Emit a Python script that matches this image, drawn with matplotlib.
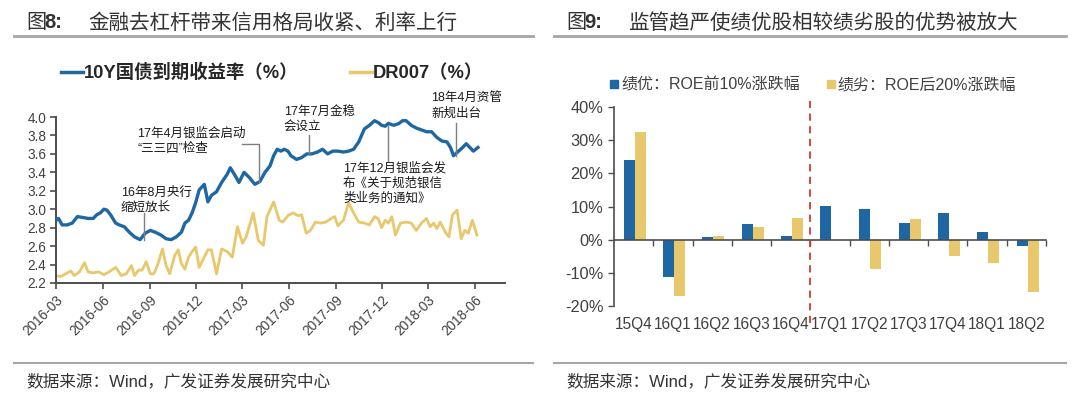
import matplotlib
matplotlib.use("Agg")
import matplotlib.pyplot as plt
import matplotlib.dates as mdates
from matplotlib.lines import Line2D
import numpy as np
import pandas as pd

plt.rcParams['font.family'] = ['Liberation Sans', 'Noto Sans CJK SC', 'DejaVu Sans']
FAM = ['Liberation Sans', 'Noto Sans CJK SC', 'DejaVu Sans']

# ---------------- data: left chart ----------------
bond_dates = ["2016-03-01", "2016-03-06", "2016-03-13", "2016-03-23", "2016-04-02", "2016-04-12",
              "2016-04-23", "2016-05-03", "2016-05-13", "2016-05-20", "2016-05-27", "2016-06-03",
              "2016-06-09", "2016-06-16", "2016-06-26", "2016-07-03", "2016-07-13", "2016-07-23",
              "2016-08-02", "2016-08-13", "2016-08-23", "2016-09-02", "2016-09-12", "2016-09-23",
              "2016-10-03", "2016-10-13", "2016-10-23", "2016-11-02", "2016-11-09", "2016-11-16",
              "2016-11-23", "2016-11-30", "2016-12-07", "2016-12-17", "2016-12-24", "2016-12-31",
              "2017-01-10", "2017-01-20", "2017-01-31", "2017-02-06", "2017-02-16", "2017-02-23",
              "2017-03-05", "2017-03-16", "2017-03-26", "2017-04-05", "2017-04-15", "2017-04-25",
              "2017-05-02", "2017-05-09", "2017-05-16", "2017-05-23", "2017-05-30", "2017-06-05",
              "2017-06-16", "2017-06-26", "2017-07-06", "2017-07-16", "2017-07-27", "2017-08-06",
              "2017-08-16", "2017-08-26", "2017-09-05", "2017-09-16", "2017-09-26", "2017-10-06",
              "2017-10-16", "2017-10-27", "2017-11-06", "2017-11-16", "2017-11-23", "2017-11-30",
              "2017-12-07", "2017-12-13", "2017-12-24", "2018-01-03", "2018-01-10", "2018-01-17",
              "2018-01-27", "2018-02-06", "2018-02-16", "2018-02-26", "2018-03-08", "2018-03-18",
              "2018-03-28", "2018-04-07", "2018-04-14", "2018-04-20", "2018-04-28", "2018-05-08",
              "2018-05-15", "2018-05-22", "2018-05-29", "2018-06-07"]
bond_yield = [2.88, 2.90, 2.83, 2.83, 2.85, 2.92, 2.91, 2.90, 2.90, 2.94, 2.96, 3.00,
              2.99, 2.94, 2.85, 2.83, 2.81, 2.75, 2.70, 2.67, 2.74, 2.77, 2.75, 2.72,
              2.68, 2.67, 2.70, 2.75, 2.85, 2.88, 2.96, 3.07, 3.21, 3.27, 3.08, 3.15,
              3.19, 3.29, 3.38, 3.45, 3.36, 3.29, 3.40, 3.34, 3.27, 3.30, 3.40, 3.47,
              3.58, 3.65, 3.63, 3.65, 3.63, 3.58, 3.54, 3.56, 3.60, 3.60, 3.62, 3.65,
              3.60, 3.63, 3.63, 3.62, 3.63, 3.65, 3.73, 3.87, 3.91, 3.96, 3.94, 3.91,
              3.90, 3.93, 3.91, 3.93, 3.96, 3.96, 3.91, 3.88, 3.86, 3.84, 3.84, 3.78,
              3.74, 3.73, 3.67, 3.58, 3.62, 3.67, 3.71, 3.67, 3.63, 3.67]

dr_dates = ["2016-03-01", "2016-03-10", "2016-03-20", "2016-03-30", "2016-04-06", "2016-04-16",
            "2016-04-26", "2016-05-03", "2016-05-13", "2016-05-24", "2016-06-03", "2016-06-13",
            "2016-06-26", "2016-07-07", "2016-07-17", "2016-07-27", "2016-08-02", "2016-08-10",
            "2016-08-17", "2016-08-25", "2016-09-02", "2016-09-09", "2016-09-16", "2016-09-26",
            "2016-10-03", "2016-10-10", "2016-10-20", "2016-10-27", "2016-11-02", "2016-11-09",
            "2016-11-16", "2016-11-23", "2016-11-30", "2016-12-07", "2016-12-14", "2016-12-24",
            "2016-12-31", "2017-01-10", "2017-01-20", "2017-01-31", "2017-02-10", "2017-02-20",
            "2017-03-02", "2017-03-09", "2017-03-23", "2017-04-02", "2017-04-12", "2017-04-19",
            "2017-05-02", "2017-05-13", "2017-05-20", "2017-05-30", "2017-06-09", "2017-06-19",
            "2017-06-26", "2017-07-05", "2017-07-13", "2017-07-23", "2017-08-02", "2017-08-12",
            "2017-08-23", "2017-08-30", "2017-09-05", "2017-09-16", "2017-09-26", "2017-10-06",
            "2017-10-16", "2017-10-27", "2017-11-06", "2017-11-16", "2017-11-23", "2017-11-30",
            "2017-12-07", "2017-12-13", "2017-12-20", "2017-12-27", "2018-01-06", "2018-01-17",
            "2018-01-27", "2018-02-06", "2018-02-16", "2018-02-26", "2018-03-05", "2018-03-12",
            "2018-03-18", "2018-03-25", "2018-04-04", "2018-04-11", "2018-04-18", "2018-04-27",
            "2018-05-05", "2018-05-12", "2018-05-19", "2018-05-27", "2018-06-05"]
dr007 = [2.28, 2.27, 2.30, 2.33, 2.28, 2.32, 2.42, 2.32, 2.31, 2.32, 2.29, 2.32,
         2.37, 2.28, 2.30, 2.39, 2.28, 2.34, 2.34, 2.43, 2.30, 2.30, 2.39, 2.57,
         2.39, 2.30, 2.50, 2.56, 2.41, 2.35, 2.48, 2.54, 2.59, 2.37, 2.45, 2.56,
         2.56, 2.30, 2.57, 2.54, 2.48, 2.81, 2.63, 2.70, 2.96, 2.66, 2.61, 2.92,
         3.08, 2.88, 2.86, 2.93, 2.96, 2.93, 2.94, 2.74, 2.77, 2.86, 2.85, 2.86,
         2.90, 2.92, 2.82, 2.88, 3.07, 2.96, 2.86, 2.85, 2.83, 2.92, 2.90, 2.80,
         2.88, 2.85, 2.92, 2.72, 2.85, 2.86, 2.85, 2.77, 2.85, 2.90, 2.81, 2.85,
         2.79, 2.86, 2.75, 2.70, 2.94, 2.99, 2.68, 2.77, 2.74, 2.88, 2.72]

left_yticks = [2.2, 2.4, 2.6, 2.8, 3.0, 3.2, 3.4, 3.6, 3.8, 4.0]
left_xticks = ["2016-03-01", "2016-06-01", "2016-09-01", "2016-12-01", "2017-03-01",
               "2017-06-01", "2017-09-01", "2017-12-01", "2018-03-01", "2018-06-01"]
legend_left = ["10Y国债到期收益率（%）", "DR007（%）"]

# annotations: (text, text date, text value, leader points as (date, value))
annotations = [
    ("16年8月央行\n缩短放长", "2016-07-06", 3.10,
     [("2016-08-20", 2.96), ("2016-08-20", 2.67)]),
    ("17年4月银监会启动\n“三三四”检查", "2016-08-07", 3.74,
     [("2017-03-01", 3.71), ("2017-04-03", 3.71), ("2017-04-03", 3.29)]),
    ("17年7月金稳\n会设立", "2017-05-22", 3.97,
     [("2017-07-10", 3.80), ("2017-07-10", 3.60)]),
    ("17年12月银监会发\n布《关于规范银信\n类业务的通知》", "2017-09-15", 3.28,
     [("2017-12-12", 3.52), ("2017-12-12", 3.90)]),
    ("18年4月资管\n新规出台", "2018-03-07", 4.12,
     [("2018-04-25", 3.94), ("2018-04-25", 3.58)]),
]

# ---------------- data: right chart ----------------
quarters = ["15Q4", "16Q1", "16Q2", "16Q3", "16Q4", "17Q1", "17Q2", "17Q3", "17Q4", "18Q1", "18Q2"]
top10_ret = [23.9, -11.3, 0.8, 4.6, 1.0, 10.2, 9.2, 5.1, 8.1, 2.2, -1.8]
bottom20_ret = [32.6, -16.9, 1.0, 3.9, 6.6, 0.0, -8.9, 6.3, -5.0, -7.1, -15.7]
right_yticks = [-20, -10, 0, 10, 20, 30, 40]
legend_right = ["绩优：ROE前10%涨跌幅", "绩劣：ROE后20%涨跌幅"]
divider_after = "16Q4"

# ---------------- styles ----------------
BLUE = "#1f67a3"
YELLOW = "#e8c86c"
DARK = "#333333"
AXC = "#4d4d4d"
GRAY_LINE = "#a6a6a6"

W, H = 1080, 398
fig = plt.figure(figsize=(W / 100, H / 100), dpi=100)


def fx(px):
    return px / W


def fy(py):
    return 1 - py / H


# headers & footers
for x0, x1, num, title in [(14, 533, "8:", "金融去杠杆带来信用格局收紧、利率上行"),
                           (554, 1066, "9:", "监管趋严使绩优股相较绩劣股的优势被放大")]:
    fig.add_artist(Line2D([fx(x0), fx(x1)], [fy(36), fy(36)], color=GRAY_LINE, lw=2))
    fig.add_artist(Line2D([fx(x0), fx(x1)], [fy(363), fy(363)], color=GRAY_LINE, lw=1.5))
    fig.text(fx(x0 + 12), fy(23), "图", fontsize=14.5, color=DARK, va="center", ha="left")
    fig.text(fx(x0 + 30), fy(23), num, fontsize=14.5, color=DARK, va="center", ha="left",
             fontweight="bold")
    fig.text(fx(x0 + 74), fy(23), title, fontsize=14.8, color=DARK, va="center", ha="left")
    fig.text(fx(x0 + 12), fy(381), "数据来源：Wind，广发证券发展研究中心", fontsize=12,
             color=DARK, va="center", ha="left")

# ---------------- left chart ----------------
ax1 = fig.add_axes([fx(56), fy(283), fx(505 - 56), (283 - 117) / H])
bd = pd.to_datetime(bond_dates)
dd = pd.to_datetime(dr_dates)
ax1.plot(dd, dr007, color=YELLOW, lw=2.0, zorder=2)
ax1.plot(bd, bond_yield, color=BLUE, lw=2.4, zorder=3)
ax1.set_ylim(2.2, 4.0)
ax1.set_xlim(pd.Timestamp("2016-03-01"), pd.Timestamp("2018-07-30"))
ax1.set_yticks(left_yticks)
ax1.set_yticklabels([f"{v:.1f}" for v in left_yticks])
ax1.set_xticks(pd.to_datetime(left_xticks))
ax1.xaxis.set_major_formatter(mdates.DateFormatter("%Y-%m"))
for lab in ax1.get_xticklabels():
    lab.set_rotation(45)
    lab.set_ha("right")
    lab.set_rotation_mode("anchor")
ax1.tick_params(axis="both", direction="out", length=4, width=1.2, colors=AXC,
                labelsize=9.8, labelcolor="#404040")
ax1.tick_params(axis="y", pad=3)
for s in ["top", "right"]:
    ax1.spines[s].set_visible(False)
for s in ["left", "bottom"]:
    ax1.spines[s].set_color(AXC)
    ax1.spines[s].set_linewidth(1.4)

for text, tdate, tval, pts in annotations:
    ax1.text(pd.Timestamp(tdate), tval, text, fontsize=9, color="#1a1a1a", ha="left",
             va="center", linespacing=1.3, clip_on=False, zorder=5)
    xs = pd.to_datetime([p[0] for p in pts])
    ys = [p[1] for p in pts]
    ax1.plot(xs, ys, color="#7f7f7f", lw=1.0, clip_on=False, zorder=4)

lh = [Line2D([], [], color=BLUE, lw=2.5), Line2D([], [], color=YELLOW, lw=2.5)]
fig.legend(lh, legend_left, loc="center", bbox_to_anchor=(fx(272), fy(73)), ncol=2,
           frameon=False, handlelength=1.2, handletextpad=0.05, columnspacing=2.8,
           prop={"family": FAM, "weight": "bold", "size": 13.2},
           labelcolor="#262626")

# ---------------- right chart ----------------
ax2 = fig.add_axes([fx(614), fy(306), fx(1046 - 614), (306 - 107) / H])
x = np.arange(len(quarters))
bw = 0.28
ax2.bar(x - bw / 2 + 0.03, top10_ret, bw, color=BLUE, zorder=2)
ax2.bar(x + bw / 2 + 0.03, bottom20_ret, bw, color=YELLOW, zorder=2)
ax2.set_xlim(-0.5, len(quarters) - 0.5)
ax2.set_ylim(-20, 40)
ax2.set_yticks(right_yticks)
ax2.set_yticklabels([f"{v}%" for v in right_yticks])
ax2.spines["bottom"].set_position(("data", 0))
for s in ["top", "right"]:
    ax2.spines[s].set_visible(False)
for s in ["left", "bottom"]:
    ax2.spines[s].set_color(AXC)
    ax2.spines[s].set_linewidth(1.2)
ax2.set_xticks(np.arange(len(quarters)) + 0.5)
ax2.set_xticklabels([])
ax2.tick_params(axis="x", direction="out", length=4, width=1.0, colors=AXC)
ax2.tick_params(axis="y", direction="out", length=4, width=1.0, colors=AXC,
                labelsize=11.8, labelcolor="#404040")
for i, q in enumerate(quarters):
    ax2.text(i, -0.055, q, transform=ax2.get_xaxis_transform(), ha="center", va="top",
             fontsize=11.2, color="#404040")
dv = quarters.index(divider_after) + 0.5
ax2.plot([dv, dv], [-25, 42.7], color="#d0392f", lw=1.3, ls=(0, (4, 3)), clip_on=False,
         zorder=3)

rh = [Line2D([], [], color=BLUE, marker="s", ls="none", markersize=5.5),
      Line2D([], [], color=YELLOW, marker="s", ls="none", markersize=5.5)]
fig.legend(rh, legend_right, loc="center", bbox_to_anchor=(fx(813), fy(85)), ncol=2,
           frameon=False, handlelength=0.6, handletextpad=0.15, columnspacing=1.6,
           prop={"family": FAM, "size": 11.5}, labelcolor="#404040")

fig.savefig("out.png", dpi=100)
